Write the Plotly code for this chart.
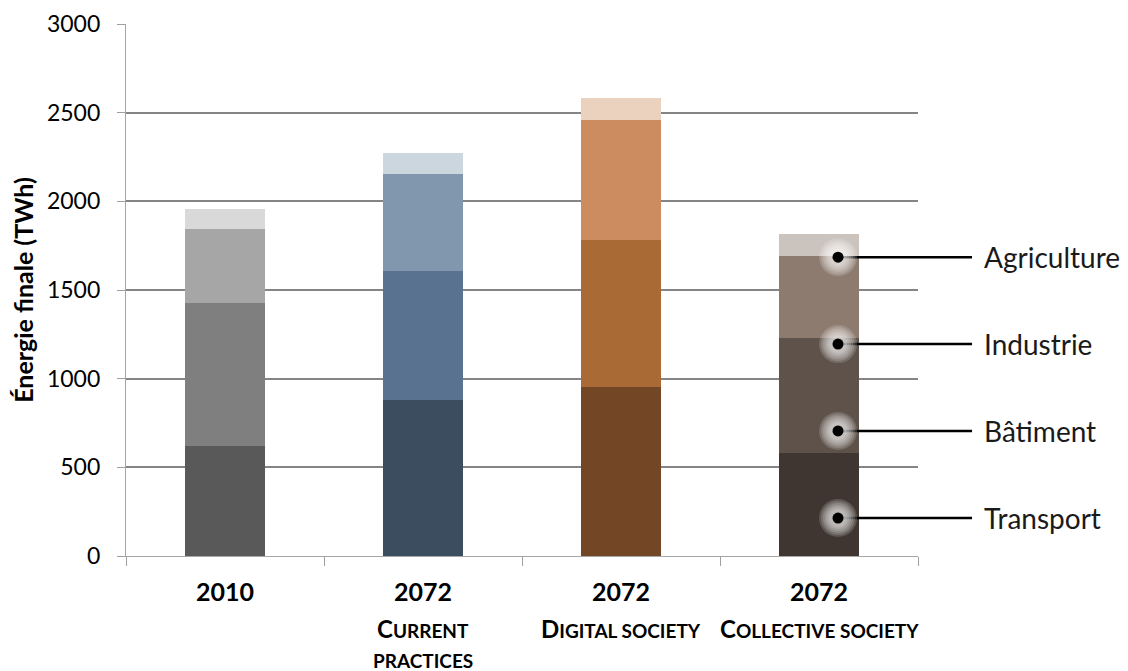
import plotly.graph_objects as go

# scenarios on the x axis
scenarios = ["2010", "2072 current practices", "2072 digital society", "2072 collective society"]
years = ["2010", "2072", "2072", "2072"]

# final energy by sector (TWh)
transport = [620, 880, 953, 581]
batiment = [807, 727, 829, 649]
industrie = [417, 548, 677, 462]
agriculture = [113, 118, 124, 124]

sectors = ["Transport", "Bâtiment", "Industrie", "Agriculture"]
callout_y = [214, 705, 1195, 1685]  # where each sector label points on the last bar

# one palette per scenario, dark (transport) to light (agriculture)
colors = {
    "Transport":   ["#595959", "#3b4d5f", "#734725", "#3f3631"],
    "Bâtiment":    ["#7f7f7f", "#587290", "#aa6a36", "#5e524a"],
    "Industrie":   ["#a6a6a6", "#8097ad", "#cc8c60", "#8d7b6f"],
    "Agriculture": ["#d9d9d9", "#ccd6df", "#ead2bf", "#cbc3be"],
}
values = {"Transport": transport, "Bâtiment": batiment,
          "Industrie": industrie, "Agriculture": agriculture}

FONT = "Lato"
W, H = 1120, 663          # page body adds an 8px margin
L, T, B = 118, 16, 115
plot_w = W - L            # full-width area for the callouts
cat_px = 198              # pixels per category on the bar axis
x_frac = 4 * cat_px / plot_w

fig = go.Figure()
for s in sectors:
    fig.add_trace(go.Bar(x=scenarios, y=values[s], name=s,
                         marker=dict(color=colors[s], line_width=0)))

# callouts: own numeric axes spanning to the right edge so nothing is clipped
last = len(scenarios) - 1
dot_x = last + 0.096
end_x = last + 0.773
for s, yv in zip(sectors, callout_y):
    fig.add_trace(go.Scatter(x=[dot_x, end_x], y=[yv, yv], mode="lines",
                             xaxis="x2", yaxis="y2",
                             line=dict(color="black", width=2.5),
                             hoverinfo="skip", showlegend=False))
    for size in [38, 34, 30, 26, 22, 18]:
        fig.add_trace(go.Scatter(x=[dot_x], y=[yv], mode="markers",
                                 xaxis="x2", yaxis="y2",
                                 marker=dict(color="white", size=size, opacity=0.16, line_width=0),
                                 hoverinfo="skip", showlegend=False))
    fig.add_trace(go.Scatter(x=[dot_x], y=[yv], mode="markers",
                             xaxis="x2", yaxis="y2",
                             marker=dict(color="black", size=11, line_width=0),
                             hoverinfo="skip", showlegend=False))
    fig.add_annotation(x=last + 0.823, y=yv, xref="x2", yref="y2", text=s, showarrow=False,
                       xanchor="left", yanchor="middle",
                       font=dict(family=FONT, size=28, color="#1a1a1a"))

# small-caps subtitles under the years
def smallcaps(word, small=19):
    return "<b>%s<span style='font-size:%dpx'>%s</span></b>" % (word[0], small, word[1:])

def small(word, size=19):
    return "<b><span style='font-size:%dpx'>%s</span></b>" % (size, word)

subs = {
    1: [smallcaps("CURRENT"), small("PRACTICES")],
    2: [smallcaps("DIGITAL") + small(" SOCIETY")],
    3: [smallcaps("COLLECTIVE") + small(" SOCIETY")],
}
for i, lines in subs.items():
    for j, t in enumerate(lines):
        fig.add_annotation(x=scenarios[i], y=0, yref="paper", text=t, showarrow=False,
                           xanchor="center", yanchor="middle", yshift=-72 - 32 * j,
                           font=dict(family=FONT, size=24, color="black"))

fig.update_layout(
    width=W, height=H,
    margin=dict(l=L, r=0, t=T, b=B),
    paper_bgcolor="white", plot_bgcolor="rgba(0,0,0,0)",
    barmode="stack", bargap=0.596,
    showlegend=False,
    font=dict(family=FONT, color="black"),
    xaxis=dict(
        domain=[0, x_frac],
        tickvals=scenarios, ticktext=["<b>%s</b>" % y for y in years],
        tickson="boundaries", ticks="outside", ticklen=9, tickcolor="#a0a0a0", tickwidth=1.3,
        tickfont=dict(family=FONT, size=25, color="black"), ticklabelstandoff=14,
        showline=True, linecolor="#a6a6a6", linewidth=1.3,
        showgrid=False, range=[-0.5, 3.5], automargin=False,
    ),
    xaxis2=dict(domain=[0, 1], anchor="y2", range=[-0.5, -0.5 + plot_w / cat_px],
                visible=False, showgrid=False),
    yaxis2=dict(anchor="x2", range=[0, 3000], visible=False, showgrid=False),
    yaxis=dict(
        range=[0, 3000], dtick=500,
        ticks="outside", ticklen=8, tickcolor="#a0a0a0", tickwidth=1.3,
        tickfont=dict(family=FONT, size=23, color="black"), ticklabelstandoff=12,
        showline=True, linecolor="#a6a6a6", linewidth=1.3,
        showgrid=True, gridcolor="#858585", gridwidth=1.6,
        zeroline=False, automargin=False,
        title=dict(text="<b>Énergie finale (TWh)</b>", standoff=14,
                   font=dict(family=FONT, size=25, color="black")),
    ),
)

fig.write_html("out.html")
